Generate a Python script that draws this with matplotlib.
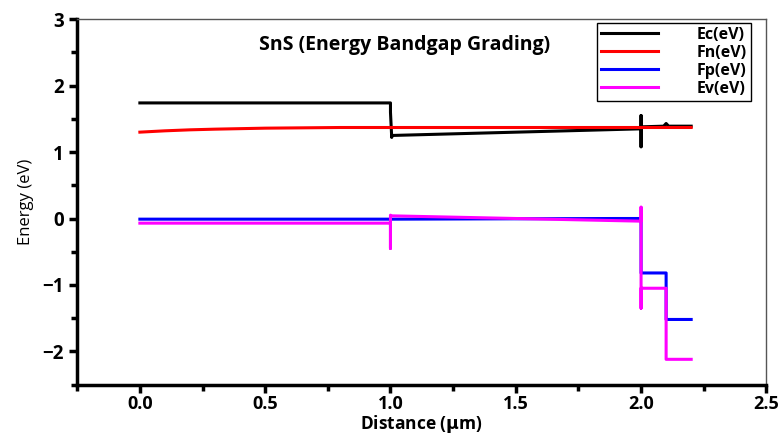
import matplotlib
matplotlib.use('Agg')
import matplotlib.pyplot as plt
from matplotlib.ticker import MultipleLocator

plt.rcParams['font.family'] = ['Open Sans', 'DejaVu Sans']

# Ec (conduction band)
ec_x = [0.0, 1.0, 1.0, 1.005, 1.005, 2.0, 2.0, 2.0, 2.0, 2.09, 2.1, 2.11, 2.2]
ec_y = [1.74, 1.74, 1.60, 1.22, 1.25, 1.35, 1.55, 1.08, 1.38, 1.39, 1.43, 1.39, 1.39]

# Fn (electron quasi-Fermi level)
fn_x = [0.0, 0.1, 0.2, 0.3, 0.5, 0.8, 1.0, 1.5, 2.0, 2.2]
fn_y = [1.30, 1.32, 1.335, 1.345, 1.36, 1.37, 1.37, 1.37, 1.37, 1.37]

# Fp (hole quasi-Fermi level)
fp_x = [0.0, 1.0, 1.9, 2.0, 2.0, 2.1, 2.1, 2.2]
fp_y = [-0.01, -0.01, 0.0, 0.0, -0.82, -0.82, -1.52, -1.52]

# Ev (valence band)
ev_x = [0.0, 1.0, 1.0, 1.0, 1.005, 1.5, 2.0, 2.0, 2.0, 2.0, 2.1, 2.1, 2.2]
ev_y = [-0.07, -0.07, -0.45, 0.05, 0.04, 0.0, -0.04, 0.17, -1.35, -1.05, -1.05, -2.12, -2.12]

fig = plt.figure(figsize=(7.84, 4.37), dpi=100)
ax = fig.add_axes([0.0985, 0.12, 0.879, 0.836])

lw = 2.2
ax.plot(ec_x, ec_y, color='black', lw=lw, label='Ec(eV)')
ax.plot(fn_x, fn_y, color='red', lw=lw, label='Fn(eV)')
ax.plot(fp_x, fp_y, color='blue', lw=lw, label='Fp(eV)')
ax.plot(ev_x, ev_y, color='magenta', lw=lw, label='Ev(eV)')

ax.set_xlim(-0.25, 2.5)
ax.set_ylim(-2.5, 3)
ax.xaxis.set_major_locator(MultipleLocator(0.5))
ax.xaxis.set_minor_locator(MultipleLocator(0.25))
ax.yaxis.set_major_locator(MultipleLocator(1))
ax.yaxis.set_minor_locator(MultipleLocator(0.5))
ax.xaxis.set_major_formatter(matplotlib.ticker.FormatStrFormatter('%.1f'))

for side in ['left', 'bottom']:
    ax.spines[side].set_linewidth(2.5)
for side in ['top', 'right']:
    ax.spines[side].set_linewidth(1.0)
    ax.spines[side].set_color('#555555')
ax.tick_params(which='major', direction='out', length=6, width=2.5,
               labelsize=13.5, top=False, right=False)
ax.tick_params(which='minor', direction='out', length=4, width=2.5,
               top=False, right=False)
ax.tick_params(axis='x', which='major', pad=1.5, labelsize=13)
for lab in ax.get_xticklabels() + ax.get_yticklabels():
    lab.set_fontweight('bold')

ax.set_xlabel(r'Distance ($\mathbf{\mu}$m)', fontsize=12.5, fontweight='bold', labelpad=0)
ax.set_ylabel('Energy (eV)', fontsize=12, labelpad=6)

ax.text(0.475, 0.93, 'SnS (Energy Bandgap Grading)', transform=ax.transAxes,
        ha='center', va='center', fontsize=14, fontweight='bold')

leg = ax.legend(loc='upper right', bbox_to_anchor=(0.977, 0.99), borderaxespad=0,
                prop={'weight': 'bold', 'size': 11.5}, handlelength=3.6,
                handletextpad=2.4, labelspacing=0.12, borderpad=0.25,
                fancybox=False, framealpha=1, edgecolor='black')
leg.get_frame().set_linewidth(1.0)

fig.savefig('out.png', dpi=100)
